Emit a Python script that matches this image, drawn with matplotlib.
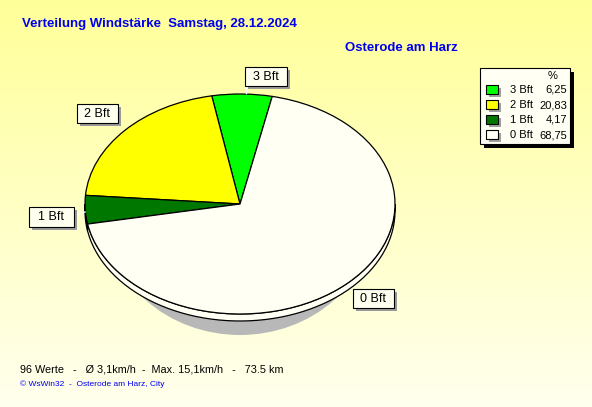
import matplotlib
matplotlib.use("Agg")
import matplotlib.pyplot as plt
from matplotlib.patches import Rectangle, Ellipse, Polygon
import numpy as np

plt.rcParams['font.family'] = ['Liberation Sans', 'DejaVu Sans']

# Daten
klassen = ['3 Bft', '2 Bft', '1 Bft', '0 Bft']
anteile = [6.25, 20.83, 4.17, 68.75]
farben = ['#00ff00', '#ffff00', '#007800', '#fffff4']
titel = 'Verteilung Windstärke  Samstag, 28.12.2024'
ort = 'Osterode am Harz'
info = '96 Werte   -   Ø 3,1km/h  -  Max. 15,1km/h   -   73.5 km'
quelle = '© WsWin32  -  Osterode am Harz, City'

W, H = 592, 407
fig = plt.figure(figsize=(W / 100, H / 100), dpi=100)

# Hintergrund mit Farbverlauf
bg = fig.add_axes([0, 0, 1, 1])
grad = np.linspace(0, 1, 256).reshape(-1, 1)
top = np.array([255, 255, 153]) / 255
bot = np.array([255, 255, 238]) / 255
img = top[None, None, :] * (1 - grad[..., None]) + bot[None, None, :] * grad[..., None]
bg.imshow(img, aspect='auto', extent=[0, W, H, 0])
bg.set_xlim(0, W)
bg.set_ylim(H, 0)
bg.axis('off')

# Tortendiagramm (Ellipse), Mittelpunkt in Pixel
cx, cy, rx, ry = 240, 204, 155, 110
tiefe = 7 / ry
ax = fig.add_axes([0, 0, 1, 1])
ax.patch.set_alpha(0)

# Schatten
ax.add_patch(Ellipse((0, -14 / ry), 2 * 132 / rx, 2 * 117 / ry, fc='#b8b8b8', ec='none', zorder=0))

start = 78
# Seitenflaechen (vorne, 180..360 Grad)
grenzen = start + np.cumsum([0] + [a * 3.6 for a in anteile])
for i in range(len(anteile)):
    for off in (0, 360):
        a0 = max(grenzen[i] - off, 180)
        a1 = min(grenzen[i + 1] - off, 360)
        if a1 <= a0:
            continue
        t = np.radians(np.linspace(a0, a1, 60))
        xs = np.cos(t)
        ys = np.sin(t)
        pts = np.concatenate([np.c_[xs, ys], np.c_[xs[::-1], ys[::-1] - tiefe]])
        ax.add_patch(Polygon(pts, closed=True, fc=farben[i], ec='black', lw=0.9, zorder=1))

wedges, _ = ax.pie(anteile, colors=farben, startangle=start, counterclock=True,
                   wedgeprops=dict(edgecolor='black', linewidth=0.9))
for w in wedges:
    w.set_zorder(2)
ax.set_aspect('auto')
ax.set_xlim(-cx / rx, (W - cx) / rx)
ax.set_ylim(-(H - cy) / ry, cy / ry)
ax.axis('off')

# Overlay fuer Texte in Pixelkoordinaten
ov = fig.add_axes([0, 0, 1, 1])
ov.patch.set_alpha(0)
ov.set_xlim(0, W)
ov.set_ylim(H, 0)
ov.axis('off')


def box(x0, y0, w, h, fc, schatten, dx=3, dy=3, lw=0.8):
    ov.add_patch(Rectangle((x0 + dx, y0 + dy), w, h, fc=schatten, ec='none', zorder=3))
    ov.add_patch(Rectangle((x0, y0), w, h, fc=fc, ec='black', lw=lw, zorder=4))


# Beschriftungen der Segmente
etiketten = {'3 Bft': (245, 67, 42, 19), '2 Bft': (77, 104, 41, 19),
             '1 Bft': (29, 207, 45, 20), '0 Bft': (353, 289, 41, 19)}
linien = {'3 Bft': [(246, 86), (246, 93)], '1 Bft': [(74, 216), (85, 212)]}
for k, (x0, y0, w, h) in etiketten.items():
    if k in linien:
        (x1, y1), (x2, y2) = linien[k]
        ov.plot([x1, x2], [y1, y2], color='white', lw=1, zorder=2.5)
    box(x0, y0, w, h, '#fffff0', '#9a9a9a')
    ov.text(x0 + w / 2, y0 + h / 2 + 0.5, k, ha='center', va='center', fontsize=9, zorder=5)

# Titel
ov.text(22, 24, titel, color='#0000f0', fontsize=9.5, fontweight='bold', va='center')
ov.text(345, 48, ort, color='#0000f0', fontsize=9.5, fontweight='bold', va='center')

# Legende
box(480, 68, 90, 76, '#fffff4', 'black', dx=4, dy=4, lw=0.8)
ov.text(553, 76, '%', fontsize=8, ha='center', va='center', zorder=5)
for i, (k, v, f) in enumerate(zip(klassen, anteile, farben)):
    y = 90 + i * 15
    ov.add_patch(Rectangle((489, y - 2), 12, 9, fc='#a0a0a0', ec='none', zorder=5))
    ov.add_patch(Rectangle((486, y - 5), 12, 9, fc=f, ec='black', lw=0.8, zorder=6))
    ov.text(510, y, k, fontsize=8, va='center', zorder=6)
    ov.text(567, y, f'{v:.2f}'.replace('.', ','), fontsize=8, va='center', ha='right', zorder=6)

# Fusszeilen
ov.text(20, 369, info, fontsize=7.8, va='center')
ov.text(20, 384, quelle, fontsize=6, color='#0000f0', va='center')

fig.savefig('out.png', dpi=100)
